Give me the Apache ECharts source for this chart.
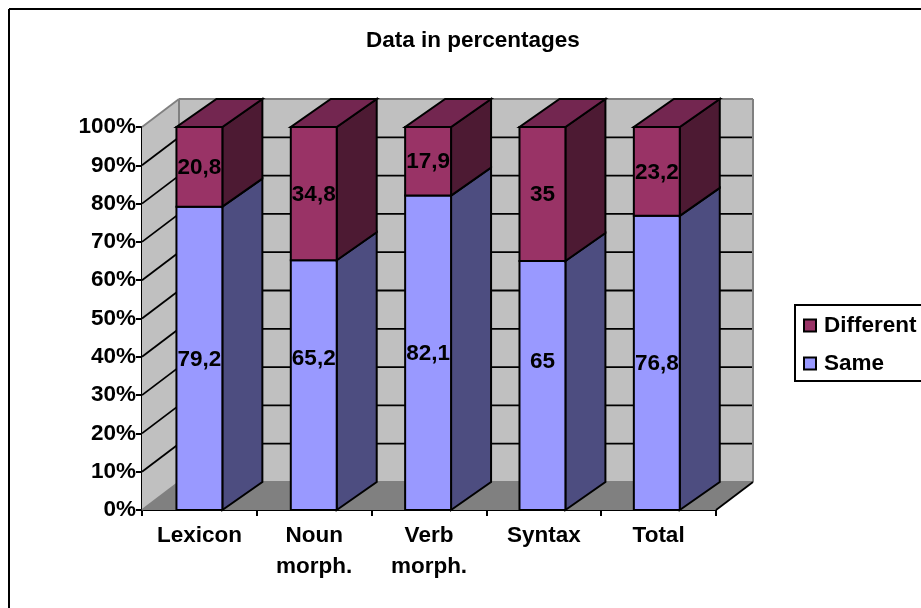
<!DOCTYPE html>
<html><head><meta charset="utf-8">
<style>html,body{margin:0;padding:0;background:#fff}#c{width:921px;height:608px}</style>
<script src="https://cdn.jsdelivr.net/npm/echarts@6/dist/echarts.min.js"></script>
</head><body><div id="c"></div>
<script>
const categories = ['Lexicon', 'Noun\nmorph.', 'Verb\nmorph.', 'Syntax', 'Total'];
const same = [79.2, 65.2, 82.1, 65, 76.8];
const different = [20.8, 34.8, 17.9, 35, 23.2];
const yTicks = [0, 10, 20, 30, 40, 50, 60, 70, 80, 90, 100];
const FONT = '"Liberation Sans", Arial, sans-serif';
const FS = 22.5;
const WALL = [37, -28], BAR = [40, -28];
const SAME_LABEL_LIFT = {1: 27, 3: 25};
const chart = echarts.init(document.getElementById('c'), null, {renderer: 'canvas'});
const poly = (pts, fill, stroke, lw) => ({type: 'polygon', shape: {points: pts},
  style: {fill: fill, stroke: stroke || 'none', lineWidth: lw || 0}});
const line = (a, b, c, lw) => ({type: 'line', shape: {x1: a[0], y1: a[1], x2: b[0], y2: b[1]},
  style: {stroke: c, lineWidth: lw}});
const off = (p, d) => [p[0] + d[0], p[1] + d[1]];
const barCentre = (api, cat) => api.coord([cat, 0])[0] - cat * 0.45;

function renderWalls(params, api) {
  const cs = params.coordSys;
  const x0 = cs.x, x1 = cs.x + cs.width;
  const y0 = api.coord([0, 0])[1], y100 = api.coord([0, 100])[1];
  const fl = [x0, y0], fr = [x1, y0], tl = [x0, y100];
  const children = [
    poly([tl, off(tl, WALL), off(fl, WALL), fl], '#c0c0c0'),
    poly([off(tl, WALL), off([x1, y100], WALL), off(fr, WALL), off(fl, WALL)], '#c0c0c0'),
    poly([fl, off(fl, WALL), off(fr, WALL), fr], '#808080'),
  ];
  yTicks.forEach(t => {
    const p = [x0, api.coord([0, t])[1]];
    const q = [x1, p[1]];
    const edge = t === 0 || t === 100;
    children.push(line(p, off(p, WALL), edge ? '#808080' : '#000', 1.8));
    children.push(line(off(p, WALL), off(q, WALL), edge ? '#808080' : '#000', edge ? 2 : 1.8));
  });
  children.push(line(off(tl, WALL), off(fl, WALL), '#808080', 2));
  children.push(line(off([x1, y100], WALL), off(fr, WALL), '#808080', 2));
  children.push(line(fr, off(fr, WALL), '#000', 1.8));
  return {type: 'group', children};
}

function renderBar(front, side, top) {
  return function (params, api) {
    const cat = api.value(0), lo = api.value(1), hi = api.value(2);
    const cx = barCentre(api, cat);
    const w = api.size([1, 0])[0] * 0.4;
    const l = cx - w / 2, r = cx + w / 2;
    const yLo = api.coord([cat, lo])[1], yHi = api.coord([cat, hi])[1];
    const S = '#000', LW = 2;
    const children = [
      poly([[r, yLo], off([r, yLo], BAR), off([r, yHi], BAR), [r, yHi]], side, S, LW),
      poly([[l, yLo], [r, yLo], [r, yHi], [l, yHi]], front, S, LW),
    ];
    if (top) children.push(poly([[l, yHi], [r, yHi], off([r, yHi], BAR), off([l, yHi], BAR)], top, S, LW));
    return {type: 'group', children};
  };
}
function renderLabels(params, api) {
  const cat = api.value(0), lo = api.value(1), hi = api.value(2);
  const y = api.coord([cat, (lo + hi) / 2])[1] - (lo === 0 ? (SAME_LABEL_LIFT[cat] || 0) : 0);
  return {type: 'text', style: {x: barCentre(api, cat), y: y + 1, text: String(api.value(3)).replace('.', ','),
    align: 'center', verticalAlign: 'middle', fill: '#000', font: 'bold ' + FS + 'px ' + FONT}};
}
const sameRows = same.map((v, i) => [i, 0, v, v]);
const diffRows = different.map((v, i) => [i, same[i], same[i] + v, v]);

chart.setOption({
  animation: false,
  backgroundColor: '#fff',
  title: {text: 'Data in percentages', left: 366, top: 29,
    textStyle: {fontFamily: FONT, fontWeight: 'bold', fontSize: FS, color: '#000'}, padding: 0},
  grid: {left: 142, right: 205, top: 127, bottom: 98},
  legend: {left: 795, top: 305, orient: 'vertical', padding: [9, 30, 6, 8], itemGap: 15, itemWidth: 12, itemHeight: 12,
    borderColor: '#000', borderWidth: 2, icon: 'rect', selectedMode: false,
    textStyle: {fontFamily: FONT, fontWeight: 'bold', fontSize: FS, color: '#000', padding: [0, 0, 0, 3]},
    data: [{name: 'Different', itemStyle: {color: '#993366', borderColor: '#000', borderWidth: 2}},
           {name: 'Same', itemStyle: {color: '#9999ff', borderColor: '#000', borderWidth: 2}}]},
  xAxis: {type: 'category', data: categories,
    axisLine: {lineStyle: {color: '#000', width: 2}},
    axisTick: {show: true, length: 6, alignWithLabel: false, lineStyle: {color: '#000', width: 2}},
    axisLabel: {fontFamily: FONT, fontWeight: 'bold', fontSize: FS, color: '#000', margin: 10, lineHeight: 31, interval: 0},
    splitLine: {show: false}},
  yAxis: {type: 'value', min: 0, max: 100, interval: 10,
    axisLine: {show: true, lineStyle: {color: '#000', width: 2}},
    axisTick: {show: true, length: 6, lineStyle: {color: '#000', width: 2}},
    axisLabel: {fontFamily: FONT, fontWeight: 'bold', fontSize: FS, color: '#000', margin: 6, formatter: '{value}%'},
    splitLine: {show: false}},
  graphic: [
    {type: 'line', silent: true, shape: {x1: 9, y1: 9, x2: 921, y2: 9}, style: {stroke: '#000', lineWidth: 2}},
    {type: 'line', silent: true, shape: {x1: 9, y1: 9, x2: 9, y2: 608}, style: {stroke: '#000', lineWidth: 2}}
  ],
  series: [
    {type: 'custom', name: 'walls', silent: true, z: 1, data: [[0]], renderItem: renderWalls, clip: false},
    {type: 'custom', name: 'Same', z: 2, itemStyle: {color: '#9999ff'}, data: sameRows, renderItem: renderBar('#9999ff', '#4d4d80'), clip: false,
     encode: {x: 0, y: 2}},
    {type: 'custom', name: 'Different', z: 3, itemStyle: {color: '#993366'}, data: diffRows, renderItem: renderBar('#993366', '#4d1a33', '#732650'), clip: false,
     encode: {x: 0, y: 2}},
    {type: 'custom', name: 'labels', silent: true, z: 4, data: sameRows.concat(diffRows), renderItem: renderLabels, clip: false,
     encode: {x: 0, y: 2}}
  ]
});
</script></body></html>
